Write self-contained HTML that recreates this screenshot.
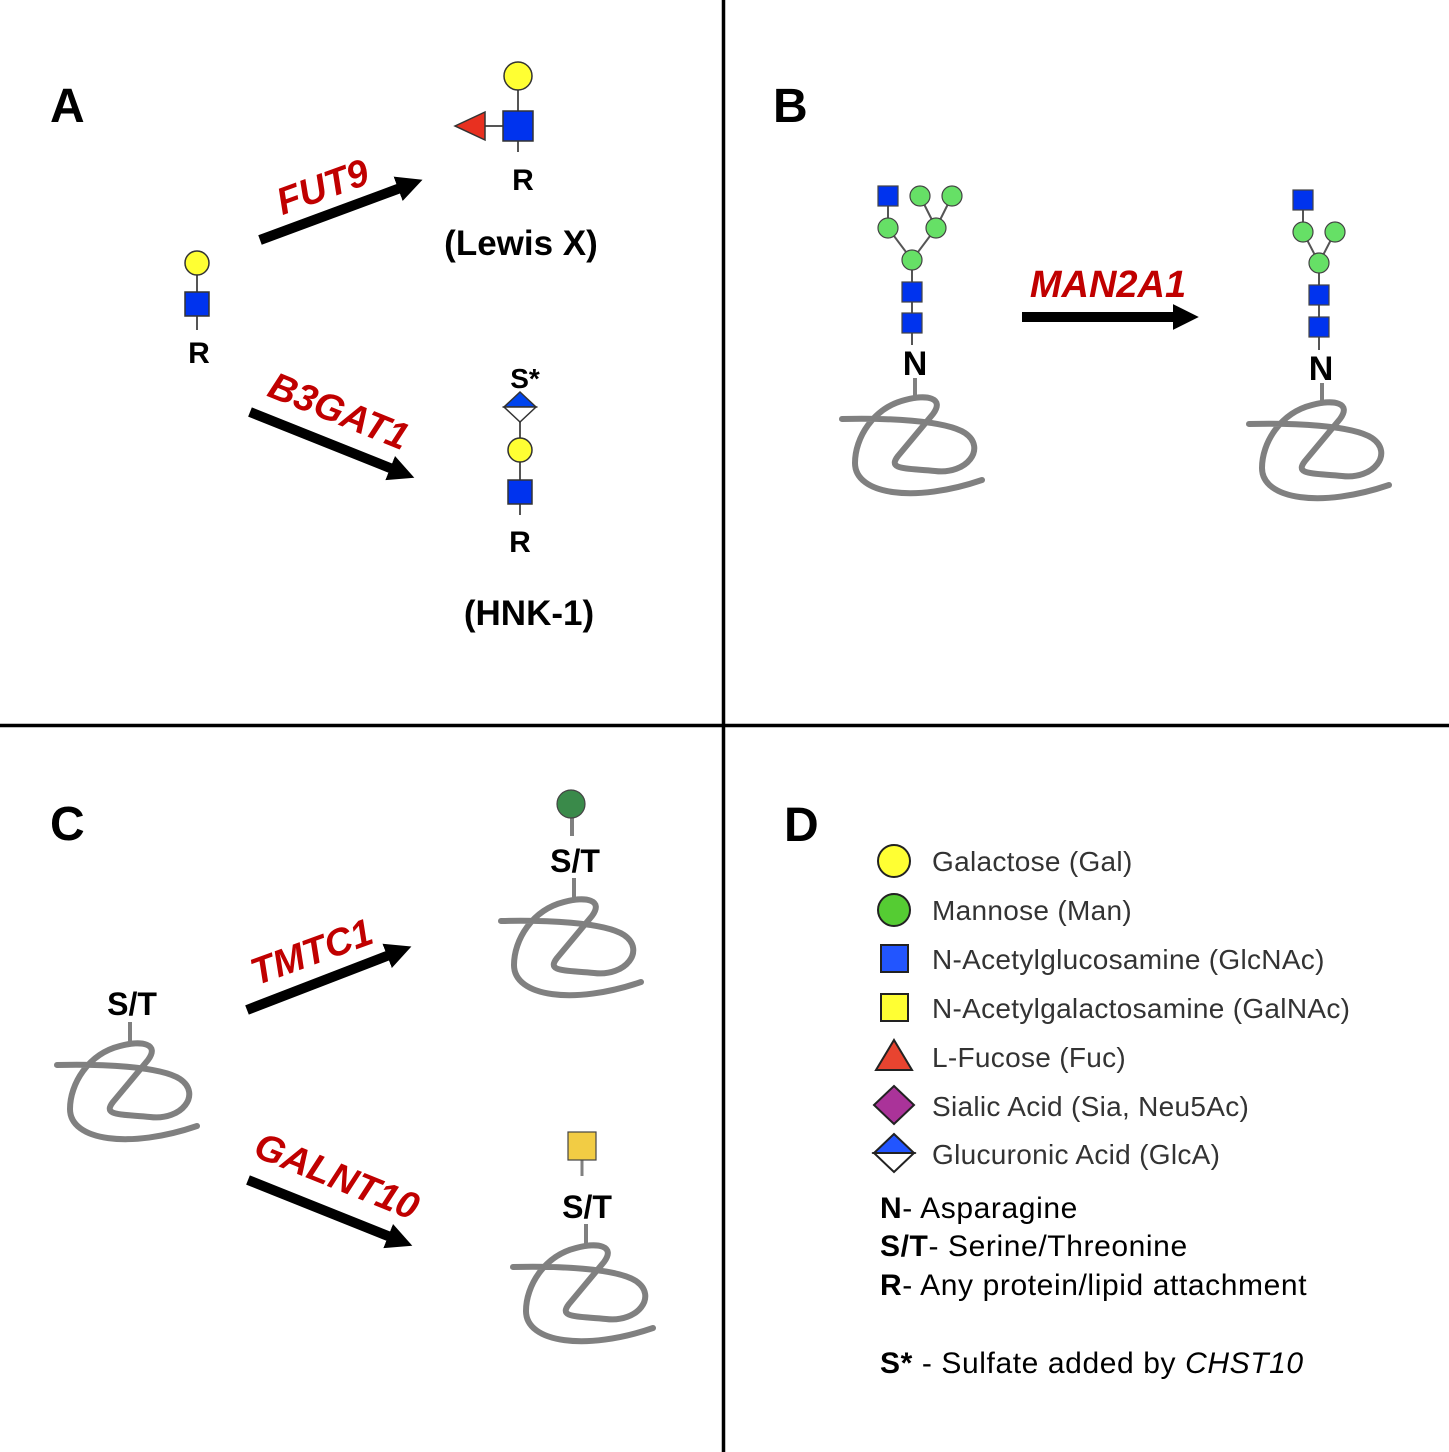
<!DOCTYPE html>
<html><head><meta charset="utf-8"><style>
html,body{margin:0;padding:0;background:#fff}
svg{display:block}
text{font-family:"Liberation Sans",Arial,sans-serif}
</style></head><body>
<svg width="1449" height="1452" viewBox="0 0 1449 1452" xmlns="http://www.w3.org/2000/svg">
<defs>
<g id="prot" fill="none" stroke="#808080" stroke-width="6" stroke-linecap="round" stroke-linejoin="round">
<path d="M -73,21 C -30,20 30,22 50,35 C 72,50 52,77 20,73 C -10,70 -28,72 -17,58 L 18,16 C 30,0 12,-4 -10,2 C -42,10 -60,40 -60,65 C -60,97 0,105 67,82"/>
</g>
<marker id="ah" viewBox="0 0 10 10" refX="2" refY="5" markerWidth="2.6" markerHeight="2.6" orient="auto" markerUnits="strokeWidth"><path d="M0,0 L10,5 L0,10 z" fill="#000"/></marker>
</defs>
<rect width="1449" height="1452" fill="#fff"/>
<line x1="723.5" y1="0" x2="723.5" y2="1452" stroke="#000" stroke-width="3.5"/>
<line x1="0" y1="725.5" x2="1449" y2="725.5" stroke="#000" stroke-width="3.5"/>
<g font-weight="bold" font-size="48" fill="#000">
<text x="50" y="122">A</text><text x="773" y="122">B</text><text x="50" y="840">C</text><text x="784" y="841">D</text>
</g>
<g stroke="#000" stroke-width="10">
<line x1="260" y1="240" x2="403" y2="187" marker-end="url(#ah)"/>
<line x1="250" y1="412" x2="395" y2="470" marker-end="url(#ah)"/>
<line x1="1022" y1="317" x2="1178" y2="317" marker-end="url(#ah)"/>
<line x1="247" y1="1010" x2="392" y2="954" marker-end="url(#ah)"/>
<line x1="248" y1="1180" x2="393" y2="1238" marker-end="url(#ah)"/>
</g>
<g font-weight="bold" font-style="italic" font-size="38" fill="#c00000" text-anchor="middle">
<text transform="translate(327,199) rotate(-20)">FUT9</text>
<text transform="translate(334,423) rotate(22)">B3GAT1</text>
<text x="1108" y="297">MAN2A1</text>
<text transform="translate(316,964) rotate(-20)">TMTC1</text>
<text transform="translate(332,1188) rotate(22)">GALNT10</text>
</g>
<g stroke="#333" stroke-width="1.5">
<line x1="197" y1="263" x2="197" y2="330" stroke="#555" stroke-width="2"/>
<circle cx="197" cy="263" r="12" fill="#ffff33"/>
<rect x="185" y="292" width="24" height="24" fill="#0033ee"/>
<line x1="518" y1="76" x2="518" y2="152" stroke="#555" stroke-width="2"/>
<line x1="480" y1="126" x2="518" y2="126" stroke="#555" stroke-width="2"/>
<circle cx="518" cy="76" r="14" fill="#ffff33"/>
<rect x="503" y="111" width="30" height="30" fill="#0033ee"/>
<polygon points="455,126 485,112 485,140" fill="#e83020"/>
<line x1="520" y1="407" x2="520" y2="515" stroke="#555" stroke-width="2"/>
<polygon points="520,392 536,407 504,407" fill="#0044ee"/>
<polygon points="504,407 536,407 520,422" fill="#fff"/>
<circle cx="520" cy="450" r="12" fill="#ffff33"/>
<rect x="508" y="480" width="24" height="24" fill="#0033ee"/>
</g>
<g font-weight="bold" fill="#000" text-anchor="middle">
<text x="199" y="363" font-size="30">R</text>
<text x="523" y="190" font-size="30">R</text>
<text x="521" y="255" font-size="35">(Lewis X)</text>
<text x="525" y="388" font-size="28">S*</text>
<text x="520" y="552" font-size="30">R</text>
<text x="529" y="625" font-size="35">(HNK-1)</text>
</g>
<g stroke="#555" stroke-width="2">
<line x1="888" y1="196" x2="888" y2="228"/><line x1="888" y1="228" x2="912" y2="260"/>
<line x1="952" y1="196" x2="936" y2="228"/><line x1="920" y1="196" x2="936" y2="228"/>
<line x1="936" y1="228" x2="912" y2="260"/><line x1="912" y1="260" x2="912" y2="345"/>
<line x1="915" y1="378" x2="915" y2="398" stroke="#808080" stroke-width="4"/>
<line x1="1303" y1="200" x2="1303" y2="232"/><line x1="1303" y1="232" x2="1319" y2="263"/>
<line x1="1335" y1="232" x2="1319" y2="263"/><line x1="1319" y1="263" x2="1319" y2="350"/>
<line x1="1322" y1="383" x2="1322" y2="403" stroke="#808080" stroke-width="4"/>
<line x1="572" y1="804" x2="572" y2="836" stroke="#808080" stroke-width="4"/>
<line x1="574" y1="878" x2="574" y2="900" stroke="#808080" stroke-width="4"/>
<line x1="582" y1="1146" x2="582" y2="1176" stroke="#808080" stroke-width="3"/>
<line x1="586" y1="1224" x2="586" y2="1246" stroke="#808080" stroke-width="4"/>
<line x1="130" y1="1022" x2="130" y2="1044" stroke="#808080" stroke-width="4"/>
</g>
<g stroke="#444" stroke-width="1.2">
<rect x="878" y="186" width="20" height="20" fill="#0033ee"/>
<circle cx="920" cy="196" r="10" fill="#66e066"/><circle cx="952" cy="196" r="10" fill="#66e066"/>
<circle cx="888" cy="228" r="10" fill="#66e066"/><circle cx="936" cy="228" r="10" fill="#66e066"/>
<circle cx="912" cy="260" r="10" fill="#66e066"/>
<rect x="902" y="282" width="20" height="20" fill="#0033ee"/><rect x="902" y="313" width="20" height="20" fill="#0033ee"/>
<rect x="1293" y="190" width="20" height="20" fill="#0033ee"/>
<circle cx="1303" cy="232" r="10" fill="#66e066"/><circle cx="1335" cy="232" r="10" fill="#66e066"/>
<circle cx="1319" cy="263" r="10" fill="#66e066"/>
<rect x="1309" y="285" width="20" height="20" fill="#0033ee"/><rect x="1309" y="317" width="20" height="20" fill="#0033ee"/>
<circle cx="571" cy="804" r="14" fill="#3a8a4a"/>
<rect x="568" y="1132" width="28" height="28" fill="#f2cc44"/>
</g>
<g font-weight="bold" fill="#000" text-anchor="middle" font-size="34">
<text x="915" y="375">N</text><text x="1321" y="380">N</text>
<text x="575" y="872" font-size="32">S/T</text>
<text x="587" y="1218" font-size="32">S/T</text>
<text x="132" y="1015" font-size="32">S/T</text>
</g>
<use href="#prot" x="915" y="398"/>
<use href="#prot" x="1322" y="403"/>
<use href="#prot" x="574" y="900"/>
<use href="#prot" x="586" y="1246"/>
<use href="#prot" x="130" y="1044"/>
<g stroke="#222" stroke-width="2">
<circle cx="894" cy="861" r="16" fill="#ffff33"/>
<circle cx="894" cy="910" r="16" fill="#55cc33"/>
<rect x="881" y="945" width="27" height="27" fill="#2255ff"/>
<rect x="881" y="994" width="27" height="27" fill="#ffff33"/>
<polygon points="894,1040 912,1070 876,1070" fill="#e84430"/>
<polygon points="894,1086 914,1105 894,1124 874,1105" fill="#aa3399"/>
<polygon points="894,1134 874,1153 914,1153" fill="#2255ff"/>
<polygon points="874,1153 914,1153 894,1172" fill="#fff"/>
</g>
<g font-size="28" fill="#333" letter-spacing="0.3">
<text x="932" y="871">Galactose (Gal)</text>
<text x="932" y="920">Mannose (Man)</text>
<text x="932" y="969">N-Acetylglucosamine (GlcNAc)</text>
<text x="932" y="1018">N-Acetylgalactosamine  (GalNAc)</text>
<text x="932" y="1067">L-Fucose (Fuc)</text>
<text x="932" y="1116">Sialic Acid (Sia, Neu5Ac)</text>
<text x="932" y="1164">Glucuronic Acid (GlcA)</text>
</g>
<g font-size="30" fill="#000" letter-spacing="0.6">
<text x="880" y="1218"><tspan font-weight="bold">N</tspan>- Asparagine</text>
<text x="880" y="1256"><tspan font-weight="bold">S/T</tspan>- Serine/Threonine</text>
<text x="880" y="1295"><tspan font-weight="bold">R</tspan>- Any protein/lipid attachment</text>
<text x="880" y="1373"><tspan font-weight="bold">S*</tspan> - Sulfate added by <tspan font-style="italic">CHST10</tspan></text>
</g>
</svg>
</body></html>
